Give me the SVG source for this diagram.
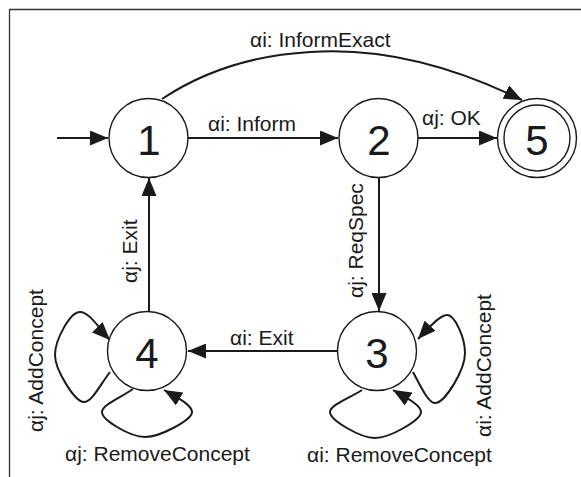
<svg xmlns="http://www.w3.org/2000/svg" width="581" height="477" viewBox="0 0 581 477">
<style>
.frame{fill:none;stroke:#333;stroke-width:1.3}
.st{fill:#fff;stroke:#1a1a1a;stroke-width:1.4}
.num{font-family:"Liberation Sans",Arial,sans-serif;font-size:42px;fill:#1a1a1a;text-anchor:middle}
.lbl{font-family:"Liberation Sans",Arial,sans-serif;font-size:21px;fill:#1a1a1a}
.e{fill:none;stroke:#1a1a1a;stroke-width:2;marker-end:url(#ah)}
</style>
<defs>
<marker id="ah" markerUnits="userSpaceOnUse" markerWidth="18" markerHeight="15" refX="18" refY="7.5" orient="auto" viewBox="0 0 18 15">
<path d="M0,0 L18,7.5 L0,15 z" fill="#1a1a1a"/>
</marker>
</defs>
<rect width="581" height="477" fill="#fff"/>
<path class="frame" d="M9.5,477 L9.5,9.5 L581,9.5"/>
<g id="connectors">
<path class="e" d="M57,138 L108,138"/>
<path class="e" d="M188,138 L338,138"/>
<path class="e" d="M418,138 L497,138"/>
<path class="e" d="M162,99 Q225,57 310,52 Q410,45 522,100"/>
<path class="e" d="M379,177 L379,311"/>
<path class="e" d="M149,312 L149,178"/>
<path class="e" d="M337,351 L188,351"/>
<path class="e" d="M110,372 C100,385 92,402 84,402 C75,402 55,370 55,355 C55,340 70,312 80,312 C90,312 100,330 110,340"/>
<path class="e" d="M133,389 C120,398 102,405 102,412 C102,420 130,437 145,437 C160,437 192,420 192,412 C192,405 178,398 164,390"/>
<path class="e" d="M413,372 C420,385 428,403 435,403 C445,403 465,370 465,353 C465,338 455,315 447,315 C440,315 428,328 418,339"/>
<path class="e" d="M362,390 C350,398 330,405 330,412 C330,420 360,438 375,438 C390,438 421,420 421,412 C421,405 405,397 393,390"/>
<text class="lbl" x="250" y="47">αi: InformExact</text>
<text class="lbl" x="208" y="131">αi: Inform</text>
<text class="lbl" x="422" y="125">αj: OK</text>
<text class="lbl" transform="translate(363,298) rotate(-90)">αj: ReqSpec</text>
<text class="lbl" transform="translate(137,283) rotate(-90)">αj: Exit</text>
<text class="lbl" x="230" y="345">αi: Exit</text>
<text class="lbl" transform="translate(43,432) rotate(-90)">αj: AddConcept</text>
<text class="lbl" transform="translate(491,437) rotate(-90)">αi: AddConcept</text>
<text class="lbl" x="65" y="461">αj: RemoveConcept</text>
<text class="lbl" x="307" y="462">αi: RemoveConcept</text>
</g>
<g id="node1"><circle class="st" cx="148.5" cy="138" r="39.5"/><text class="num" x="149" y="155">1</text></g>
<g id="node2"><circle class="st" cx="378.5" cy="138" r="39.5"/><text class="num" x="379" y="155">2</text></g>
<g id="node5"><circle class="st" cx="537" cy="138" r="39.5"/><circle class="st" cx="537" cy="138" r="33"/><text class="num" x="537" y="155">5</text></g>
<g id="node3"><circle class="st" cx="377" cy="351" r="39.5"/><text class="num" x="377" y="368">3</text></g>
<g id="node4"><circle class="st" cx="147" cy="351" r="39.5"/><text class="num" x="147" y="368">4</text></g>
</svg>
